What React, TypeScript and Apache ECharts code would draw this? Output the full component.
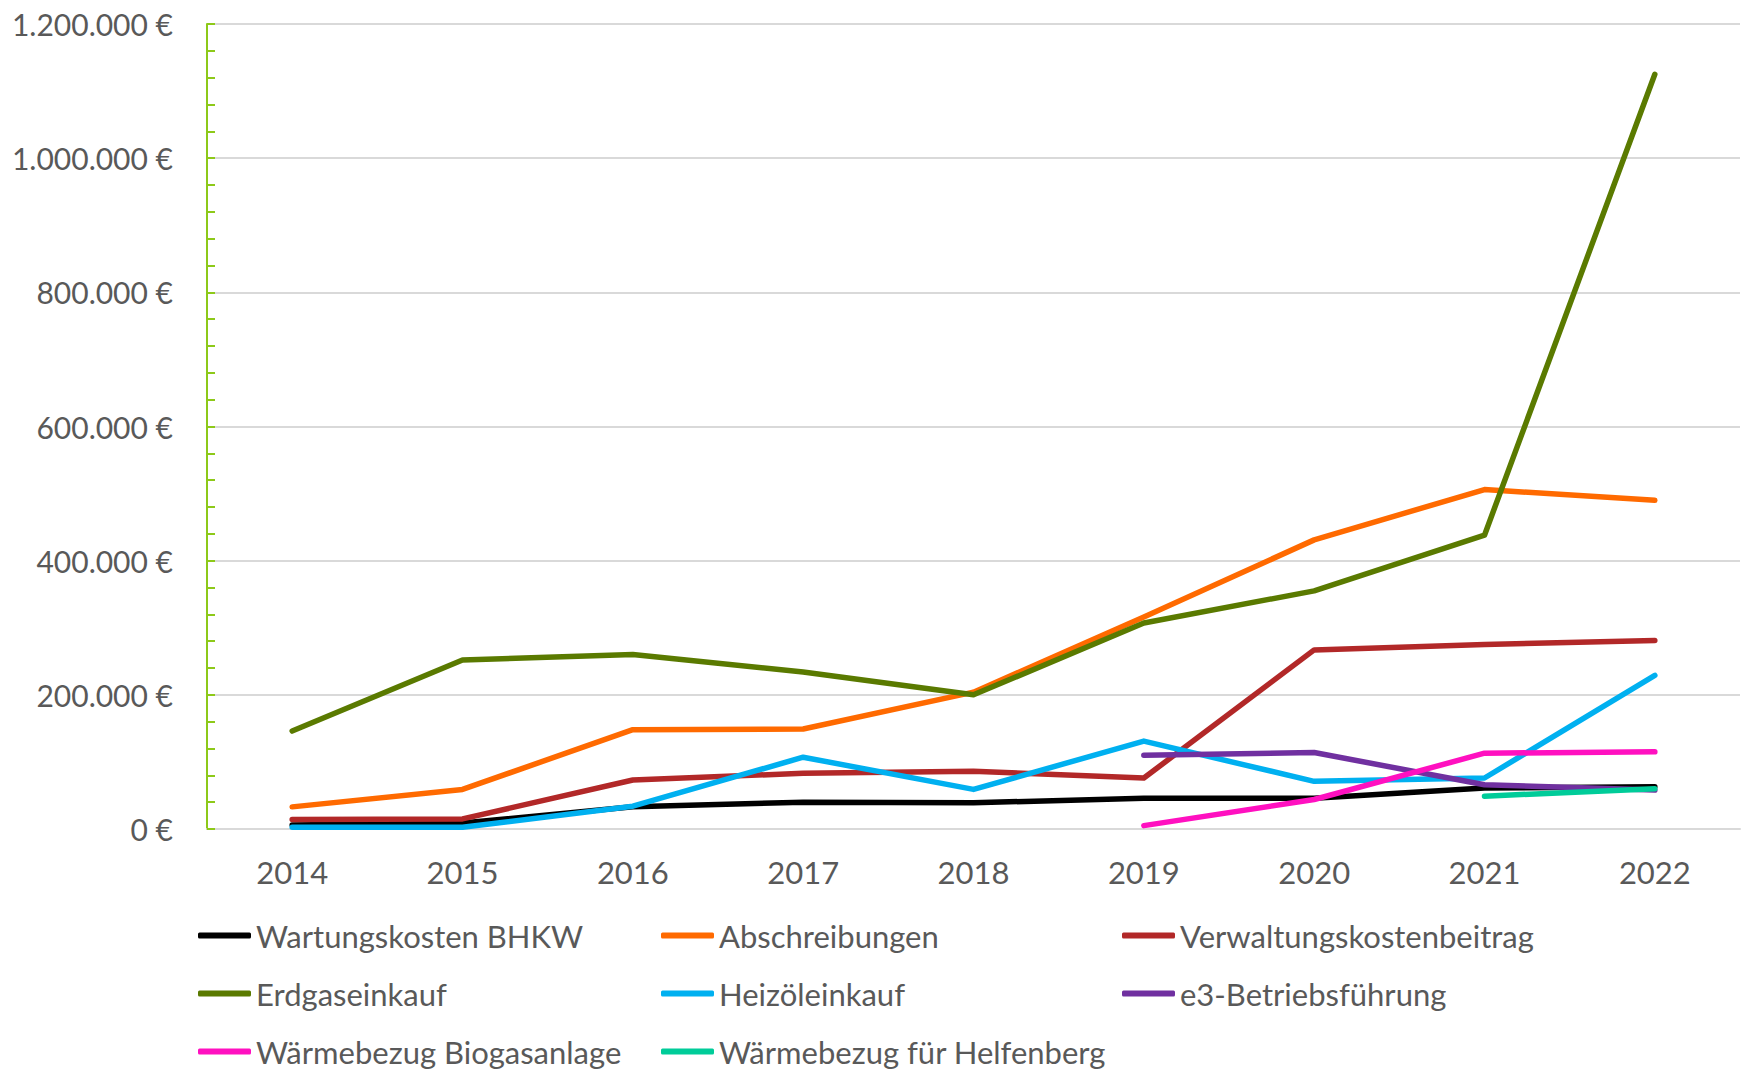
import React, { useEffect, useRef } from "react";
import * as echarts from "echarts";

const years = ["2014", "2015", "2016", "2017", "2018", "2019", "2020", "2021", "2022"];
const wartungskosten = [6000, 9000, 33000, 40000, 39000, 46000, 46000, 61000, 63000];
const abschreibungen = [33000, 59000, 148000, 149000, 204000, 316000, 431000, 506000, 490000];
const verwaltung = [14000, 15000, 73000, 83000, 86000, 76000, 267000, 275000, 281000];
const erdgas = [146000, 252000, 260000, 234000, 200000, 307000, 355000, 438000, 1125000];
const heizoel = [2500, 2500, 34000, 107000, 59000, 131000, 71000, 76000, 229000];
const e3Betrieb = [null, null, null, null, null, 110000, 114000, 66000, 58000];
const biogas = [null, null, null, null, null, 5000, 44000, 113000, 115000];
const helfenberg = [null, null, null, null, null, null, null, 49000, 60000];

const seriesDefs = [
  { name: "Wartungskosten BHKW", data: wartungskosten, color: "#000000" },
  { name: "Abschreibungen", data: abschreibungen, color: "#ff6a00" },
  { name: "Verwaltungskostenbeitrag", data: verwaltung, color: "#b22828" },
  { name: "Erdgaseinkauf", data: erdgas, color: "#5a7a00" },
  { name: "Heizöleinkauf", data: heizoel, color: "#00b0f0" },
  { name: "e3-Betriebsführung", data: e3Betrieb, color: "#7030a0" },
  { name: "Wärmebezug Biogasanlage", data: biogas, color: "#ff10c0" },
  { name: "Wärmebezug für Helfenberg", data: helfenberg, color: "#00cc99" },
];

const legendCols = [
  ["Wartungskosten BHKW", "Erdgaseinkauf", "Wärmebezug Biogasanlage"],
  ["Abschreibungen", "Heizöleinkauf", "Wärmebezug für Helfenberg"],
  ["Verwaltungskostenbeitrag", "e3-Betriebsführung"],
];
const legendLefts = [198, 661, 1122];

const FONT = "Lato";
const GRAY = "#595959";

function fmt(v: number) {
  const s = Math.round(v).toString().replace(/\B(?=(\d{3})+(?!\d))/g, ".");
  return s + " €";
}

export default function App() {
  const ref = useRef<HTMLDivElement>(null);
  useEffect(() => {
    if (!ref.current) return;
    const chart = echarts.init(ref.current, null, { renderer: "svg" });
    chart.setOption({
      animation: false,
      backgroundColor: "#ffffff",
      grid: { left: 207, right: 7, top: 24, height: 805, containLabel: false },
      legend: legendCols.map((col, i) => ({
        orient: "vertical",
        left: legendLefts[i],
        top: 920,
        padding: 0,
        height: 149,
        data: col,
        itemWidth: 53,
        itemHeight: 6,
        itemGap: 27,
        icon: "roundRect",
        textStyle: { fontFamily: FONT, fontSize: 31, color: GRAY, lineHeight: 30 },
        selectedMode: false,
      })),
      xAxis: {
        type: "category",
        data: years,
        boundaryGap: true,
        axisLine: { show: true, lineStyle: { color: "#d9d9d9", width: 2 } },
        axisTick: { show: false },
        axisLabel: { fontFamily: FONT, fontSize: 31, color: GRAY, margin: 27 },
      },
      yAxis: {
        type: "value",
        min: 0,
        max: 1200000,
        interval: 200000,
        axisLine: { show: true, lineStyle: { color: "#8dc919", width: 2 } },
        axisTick: { show: true, inside: true, length: 8, lineStyle: { color: "#8dc919", width: 2 } },
        minorTick: { show: true, splitNumber: 5, length: 8, lineStyle: { color: "#8dc919", width: 2 } },
        splitLine: { show: true, lineStyle: { color: "#d9d9d9", width: 2 } },
        axisLabel: { fontFamily: FONT, fontSize: 30, color: GRAY, margin: 34, formatter: (v: number) => fmt(v) },
      },
      series: seriesDefs.map((s) => ({
        name: s.name,
        type: "line",
        data: s.data,
        color: s.color,
        symbol: "none",
        connectNulls: false,
        lineStyle: { width: 5.5, color: s.color, cap: "round", join: "round" },
        itemStyle: { color: s.color },
      })),
    });
    return () => chart.dispose();
  }, []);
  return (
    <div
      ref={ref}
      style={{ position: "absolute", left: 0, top: 0, width: 1747, height: 1069 }}
    />
  );
}
